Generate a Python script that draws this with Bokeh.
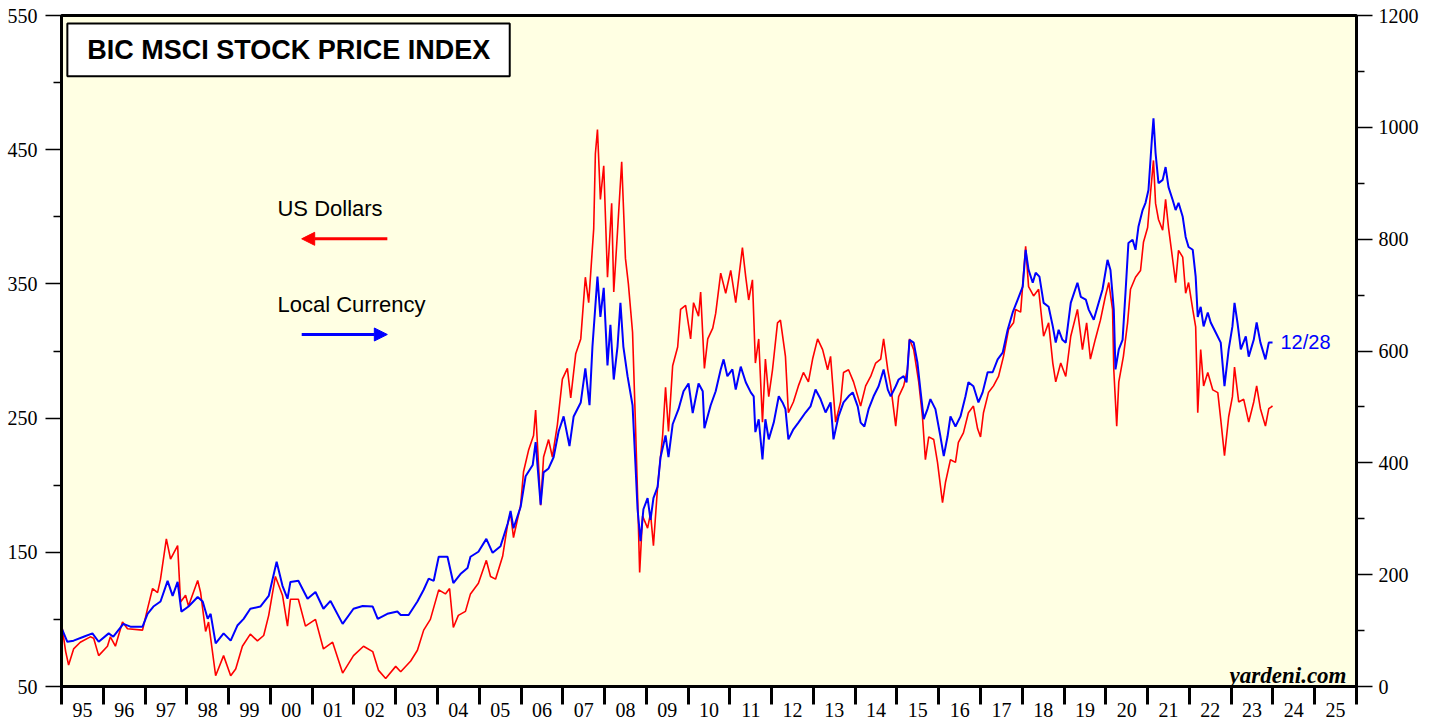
from bokeh.plotting import figure
from bokeh.models import (Range1d, LinearAxis, FixedTicker, CustomJSTickFormatter,
                          Label, BoxAnnotation, Arrow, NormalHead)
from bokeh.embed import file_html
from bokeh.resources import INLINE

# ---- data (decimal year, index level) ----
usd_dates = [1995.00, 1995.10, 1995.17, 1995.29, 1995.45, 1995.69, 1995.77, 1995.89, 1996.10, 1996.17,
             1996.29, 1996.46, 1996.58, 1996.94, 1997.06, 1997.18, 1997.30, 1997.37, 1997.51, 1997.61,
             1997.78, 1997.85, 1997.97, 1998.04, 1998.26, 1998.33, 1998.45, 1998.52, 1998.69, 1998.88,
             1999.05, 1999.17, 1999.33, 1999.52, 1999.69, 1999.84, 1999.96, 2000.12, 2000.29, 2000.41,
             2000.48, 2000.67, 2000.84, 2001.08, 2001.27, 2001.49, 2001.73, 2001.99, 2002.23, 2002.45,
             2002.59, 2002.76, 2003.00, 2003.12, 2003.36, 2003.52, 2003.67, 2003.83, 2004.03, 2004.19,
             2004.29, 2004.38, 2004.50, 2004.67, 2004.79, 2004.98, 2005.17, 2005.27, 2005.39, 2005.56,
             2005.68, 2005.75, 2005.82, 2005.99, 2006.06, 2006.18, 2006.30, 2006.35, 2006.47, 2006.54,
             2006.66, 2006.75, 2006.87, 2006.99, 2007.11, 2007.19, 2007.31, 2007.43, 2007.54, 2007.62,
             2007.74, 2007.78, 2007.83, 2007.90, 2007.98, 2008.07, 2008.17, 2008.22, 2008.31, 2008.41,
             2008.50, 2008.57, 2008.67, 2008.74, 2008.79, 2008.84, 2008.91, 2009.03, 2009.10, 2009.17,
             2009.27, 2009.39, 2009.46, 2009.53, 2009.63, 2009.75, 2009.82, 2009.94, 2010.06, 2010.13,
             2010.25, 2010.30, 2010.39, 2010.47, 2010.59, 2010.66, 2010.78, 2010.90, 2011.02, 2011.14,
             2011.30, 2011.38, 2011.45, 2011.54, 2011.61, 2011.69, 2011.78, 2011.85, 2011.93, 2012.02,
             2012.14, 2012.21, 2012.33, 2012.40, 2012.52, 2012.64, 2012.76, 2012.88, 2012.98, 2013.10,
             2013.22, 2013.34, 2013.41, 2013.53, 2013.65, 2013.72, 2013.84, 2013.96, 2014.13, 2014.25,
             2014.37, 2014.49, 2014.61, 2014.68, 2014.78, 2014.85, 2014.97, 2015.04, 2015.16, 2015.25,
             2015.30, 2015.40, 2015.52, 2015.61, 2015.68, 2015.76, 2015.88, 2015.97, 2016.09, 2016.16,
             2016.28, 2016.40, 2016.47, 2016.59, 2016.71, 2016.83, 2016.93, 2017.00, 2017.07, 2017.19,
             2017.31, 2017.43, 2017.55, 2017.67, 2017.79, 2017.84, 2017.96, 2018.08, 2018.15, 2018.27,
             2018.39, 2018.51, 2018.63, 2018.73, 2018.80, 2018.92, 2019.04, 2019.16, 2019.32, 2019.44,
             2019.54, 2019.63, 2019.75, 2019.87, 2019.99, 2020.07, 2020.16, 2020.19, 2020.26, 2020.31,
             2020.42, 2020.52, 2020.59, 2020.71, 2020.83, 2020.90, 2021.00, 2021.07, 2021.14, 2021.19,
             2021.26, 2021.36, 2021.43, 2021.50, 2021.60, 2021.67, 2021.74, 2021.84, 2021.91, 2021.98,
             2022.08, 2022.15, 2022.20, 2022.27, 2022.34, 2022.44, 2022.56, 2022.68, 2022.75, 2022.84,
             2022.94, 2023.03, 2023.08, 2023.18, 2023.30, 2023.42, 2023.54, 2023.61, 2023.70, 2023.82,
             2023.90, 2023.99]
usd_vals = [97, 76, 66, 78, 83, 87, 86, 73, 80, 87,
            80, 98, 93, 92, 108, 123, 120, 130, 160, 145,
            155, 113, 118, 110, 129, 120, 91, 98, 58, 73,
            58, 63, 80, 89, 84, 88, 103, 132, 118, 95,
            115, 115, 95, 100, 78, 83, 60, 73, 80, 76,
            62, 56, 65, 61, 69, 77, 92, 100, 122, 119,
            123, 94, 103, 106, 119, 127, 144, 132, 130, 147,
            171, 179, 161, 185, 210, 226, 237, 256, 185, 221,
            234, 221, 245, 279, 287, 265, 298, 309, 355, 336,
            391, 447, 465, 413, 438, 355, 410, 344, 389, 441,
            369, 350, 314, 245, 193, 135, 177, 168, 179, 155,
            199, 237, 273, 240, 289, 303, 331, 334, 309, 336,
            326, 344, 287, 309, 317, 328, 358, 343, 360, 336,
            377, 355, 338, 353, 291, 309, 247, 294, 266, 286,
            321, 323, 296, 254, 262, 274, 284, 277, 294, 309,
            301, 286, 296, 247, 262, 284, 286, 277, 259, 274,
            281, 291, 294, 309, 286, 274, 244, 266, 274, 286,
            309, 301, 277, 251, 219, 236, 234, 217, 187, 202,
            219, 217, 232, 239, 254, 259, 242, 236, 254, 269,
            274, 281, 296, 316, 321, 331, 329, 378, 348, 341,
            346, 311, 321, 291, 277, 291, 281, 311, 331, 301,
            321, 294, 309, 323, 341, 351, 331, 286, 244, 277,
            296, 321, 346, 355, 360, 381, 392, 418, 442, 410,
            398, 390, 413, 392, 368, 351, 375, 370, 343, 351,
            331, 318, 254, 301, 274, 284, 271, 269, 249, 222,
            251, 266, 288, 262, 264, 247, 262, 274, 257, 244,
            257, 259]

lc_dates = [1995.00, 1995.14, 1995.29, 1995.53, 1995.74, 1995.89, 1996.13, 1996.24, 1996.48, 1996.65,
            1996.94, 1997.06, 1997.20, 1997.37, 1997.54, 1997.66, 1997.78, 1997.87, 1998.04, 1998.26,
            1998.38, 1998.50, 1998.57, 1998.69, 1998.88, 1999.05, 1999.21, 1999.36, 1999.52, 1999.76,
            1999.96, 2000.15, 2000.29, 2000.41, 2000.48, 2000.67, 2000.89, 2001.08, 2001.27, 2001.44,
            2001.73, 2001.99, 2002.21, 2002.45, 2002.57, 2002.80, 2003.04, 2003.12, 2003.31, 2003.52,
            2003.67, 2003.79, 2003.91, 2004.03, 2004.24, 2004.38, 2004.55, 2004.72, 2004.79, 2004.98,
            2005.17, 2005.32, 2005.51, 2005.68, 2005.75, 2005.82, 2005.99, 2006.11, 2006.28, 2006.35,
            2006.47, 2006.54, 2006.66, 2006.78, 2006.90, 2007.02, 2007.16, 2007.26, 2007.43, 2007.54,
            2007.64, 2007.71, 2007.83, 2007.90, 2007.98, 2008.07, 2008.14, 2008.22, 2008.31, 2008.38,
            2008.45, 2008.55, 2008.67, 2008.74, 2008.79, 2008.86, 2008.93, 2009.03, 2009.10, 2009.17,
            2009.27, 2009.34, 2009.46, 2009.53, 2009.63, 2009.77, 2009.89, 2010.01, 2010.11, 2010.25,
            2010.35, 2010.39, 2010.54, 2010.66, 2010.78, 2010.85, 2010.94, 2011.06, 2011.14, 2011.26,
            2011.38, 2011.50, 2011.57, 2011.61, 2011.69, 2011.78, 2011.85, 2011.93, 2012.05, 2012.17,
            2012.26, 2012.33, 2012.40, 2012.52, 2012.64, 2012.81, 2012.93, 2013.05, 2013.17, 2013.29,
            2013.41, 2013.48, 2013.60, 2013.72, 2013.84, 2013.94, 2014.06, 2014.13, 2014.22, 2014.32,
            2014.44, 2014.56, 2014.68, 2014.78, 2014.85, 2014.97, 2015.04, 2015.16, 2015.23, 2015.30,
            2015.40, 2015.49, 2015.56, 2015.64, 2015.73, 2015.80, 2015.92, 2016.04, 2016.12, 2016.21,
            2016.28, 2016.40, 2016.52, 2016.64, 2016.71, 2016.83, 2016.95, 2017.05, 2017.17, 2017.29,
            2017.41, 2017.53, 2017.65, 2017.77, 2017.89, 2018.01, 2018.08, 2018.15, 2018.25, 2018.32,
            2018.41, 2018.51, 2018.63, 2018.73, 2018.80, 2018.87, 2018.96, 2019.04, 2019.16, 2019.32,
            2019.40, 2019.52, 2019.59, 2019.71, 2019.80, 2019.92, 2020.04, 2020.11, 2020.19, 2020.23,
            2020.31, 2020.40, 2020.47, 2020.54, 2020.64, 2020.71, 2020.78, 2020.88, 2020.95, 2021.02,
            2021.10, 2021.14, 2021.19, 2021.26, 2021.36, 2021.43, 2021.50, 2021.60, 2021.67, 2021.74,
            2021.84, 2021.91, 2021.98, 2022.08, 2022.15, 2022.20, 2022.27, 2022.34, 2022.44, 2022.51,
            2022.63, 2022.75, 2022.84, 2022.94, 2023.03, 2023.08, 2023.15, 2023.23, 2023.35, 2023.42,
            2023.54, 2023.61, 2023.70, 2023.82, 2023.90, 2023.99]
lc_vals = [105, 80, 82, 89, 95, 80, 95, 89, 112, 107,
           107, 130, 143, 152, 189, 162, 187, 134, 143, 160,
           152, 121, 130, 77, 95, 82, 109, 121, 139, 143,
           162, 223, 180, 157, 187, 189, 157, 169, 139, 153,
           112, 139, 144, 143, 121, 130, 134, 128, 128, 152,
           173, 193, 189, 232, 232, 185, 201, 212, 232, 241,
           264, 239, 251, 291, 314, 283, 321, 376, 396, 437,
           325, 383, 390, 410, 456, 483, 430, 483, 508, 569,
           503, 608, 733, 661, 713, 574, 647, 549, 608, 686,
           608, 555, 503, 396, 317, 260, 317, 337, 298, 337,
           357, 410, 449, 410, 469, 496, 528, 542, 489, 542,
           528, 462, 503, 528, 567, 585, 555, 567, 531, 572,
           544, 526, 519, 455, 478, 406, 478, 442, 472, 519,
           508, 496, 442, 460, 472, 490, 501, 531, 514, 490,
           508, 442, 483, 508, 519, 526, 501, 472, 465, 496,
           519, 537, 567, 531, 519, 537, 549, 555, 544, 620,
           615, 579, 531, 478, 496, 514, 496, 447, 412, 447,
           483, 465, 483, 519, 544, 537, 508, 526, 562, 562,
           585, 597, 638, 669, 692, 715, 781, 745, 722, 740,
           733, 686, 679, 644, 615, 638, 620, 615, 686, 722,
           697, 692, 674, 656, 679, 710, 763, 745, 674, 567,
           603, 620, 704, 793, 799, 781, 822, 852, 865, 888,
           977, 1016, 954, 900, 906, 929, 893, 870, 852, 865,
           840, 804, 786, 781, 733, 661, 679, 644, 669, 651,
           633, 615, 537, 603, 644, 686, 651, 603, 626, 590,
           620, 651, 615, 585, 615, 615]

year_edges = list(range(1995, 2027))
year_mids = [y + 0.5 for y in range(1995, 2026)]
left_major = [50, 150, 250, 350, 450, 550]
left_minor = [100, 200, 300, 400, 500]
right_major = [0, 200, 400, 600, 800, 1000, 1200]
right_minor = [100, 300, 500, 700, 900, 1100]

SERIF = "Liberation Serif"
SANS = "Liberation Sans"

p = figure(width=1432, height=719, x_range=Range1d(1995, 2026), y_range=Range1d(50, 550),
           output_backend="svg", toolbar_location=None,
           x_axis_location=None, y_axis_location=None,
           min_border_left=61, min_border_right=76, min_border_top=15, min_border_bottom=31)
p.extra_y_ranges = {"right": Range1d(0, 1200)}
p.background_fill_color = "#FFFFE3"
p.border_fill_color = "white"
p.outline_line_color = "black"
p.outline_line_width = 3
p.grid.visible = False


def style_axis(ax):
    ax.axis_line_color = "black"
    ax.axis_line_width = 3
    ax.major_tick_line_color = "black"
    ax.minor_tick_line_color = "black"
    ax.major_tick_in = 0
    ax.minor_tick_in = 0
    ax.major_label_text_font = SERIF
    ax.major_label_text_font_size = "20px"
    ax.major_label_text_color = "black"


xaxis = LinearAxis(ticker=FixedTicker(ticks=year_mids, minor_ticks=year_edges),
                   formatter=CustomJSTickFormatter(code="""
                       const y = Math.floor(tick) % 100;
                       return (y < 10 ? '0' : '') + y;
                   """))
style_axis(xaxis)
xaxis.major_tick_out = 0
xaxis.minor_tick_out = 18
xaxis.minor_tick_line_width = 3
xaxis.major_label_standoff = -2
p.add_layout(xaxis, "below")

laxis = LinearAxis(ticker=FixedTicker(ticks=left_major, minor_ticks=left_minor))
style_axis(laxis)
laxis.major_tick_out = 16
laxis.minor_tick_out = 8
laxis.major_tick_line_width = 1.5
laxis.minor_tick_line_width = 1.5
laxis.major_label_standoff = 8
p.add_layout(laxis, "left")

raxis = LinearAxis(y_range_name="right",
                   ticker=FixedTicker(ticks=right_major, minor_ticks=right_minor))
style_axis(raxis)
raxis.major_tick_out = 16
raxis.minor_tick_out = 8
raxis.major_tick_line_width = 1.5
raxis.minor_tick_line_width = 1.5
raxis.major_label_standoff = 6
p.add_layout(raxis, "right")

p.line(usd_dates, usd_vals, color="#FF0000", line_width=1.6)
p.line(lc_dates, lc_vals, y_range_name="right", color="#0000FF", line_width=2)

# title box
p.add_layout(BoxAnnotation(left=1995.14, right=2005.73, top=544.1, bottom=504.7,
                           fill_color="white", fill_alpha=1.0,
                           line_color="black", line_width=2, line_alpha=1.0))
p.add_layout(Label(x=2000.44, y=524.4, text="BIC MSCI STOCK PRICE INDEX",
                   text_font=SANS, text_font_style="bold", text_font_size="27px",
                   text_align="center", text_baseline="middle", text_color="black"))

# legend texts and arrows
p.add_layout(Label(x=2000.17, y=405.9, text="US Dollars", text_font=SANS,
                   text_font_size="22px", text_baseline="middle", text_color="black"))
p.add_layout(Label(x=2000.17, y=334.5, text="Local Currency", text_font=SANS,
                   text_font_size="22px", text_baseline="middle", text_color="black"))
p.add_layout(Arrow(end=NormalHead(size=13, fill_color="#FF0000", line_color="#FF0000"),
                   x_start=2002.80, y_start=383.6, x_end=2000.75, y_end=383.6,
                   line_color="#FF0000", line_width=3))
p.add_layout(Arrow(end=NormalHead(size=13, fill_color="#0000FF", line_color="#0000FF"),
                   x_start=2000.75, y_start=312.3, x_end=2002.80, y_end=312.3,
                   line_color="#0000FF", line_width=3))

p.add_layout(Label(x=2024.18, y=307, text="12/28", text_font=SANS, text_font_size="20px",
                   text_baseline="middle", text_color="#0000FF"))
p.add_layout(Label(x=2025.76, y=58.2, text="yardeni.com", text_font=SERIF,
                   text_font_style="bold italic", text_font_size="23px",
                   text_align="right", text_baseline="alphabetic", text_color="black"))

open("out.html", "w").write(file_html(p, INLINE))
